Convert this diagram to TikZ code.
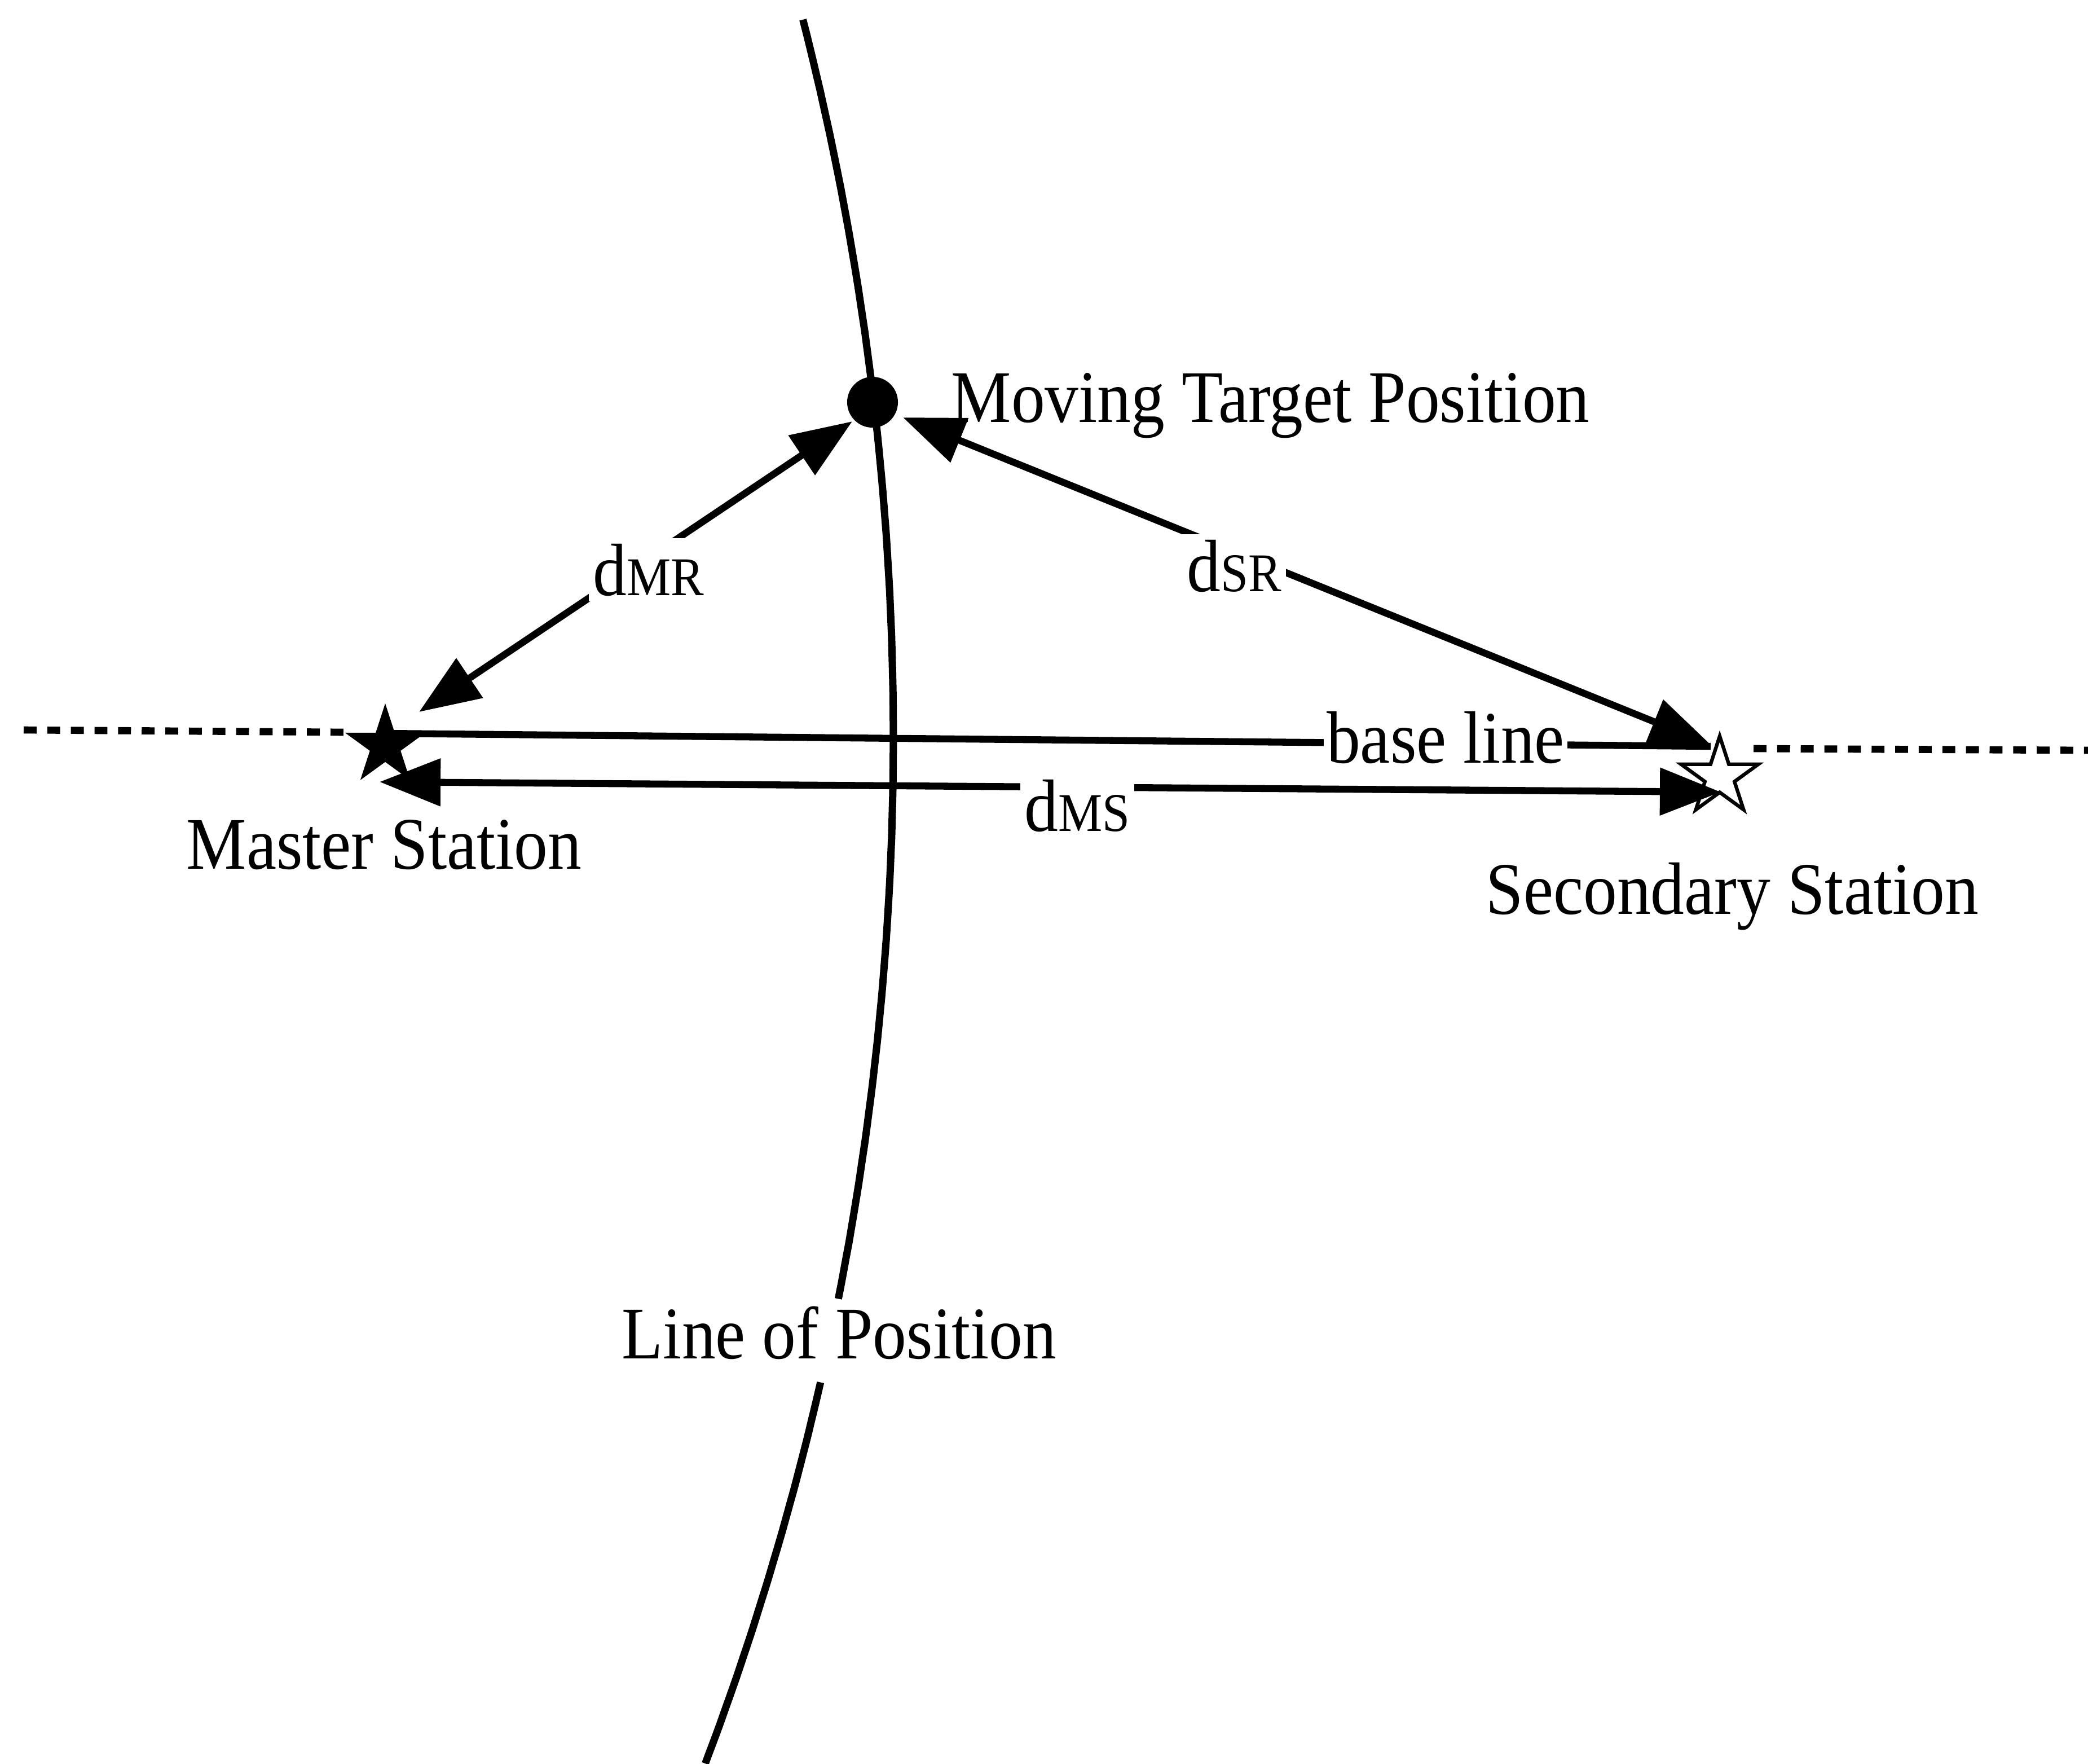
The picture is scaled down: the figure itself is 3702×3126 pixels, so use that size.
\documentclass[tikz,border=0pt]{standalone}
\usepackage{graphicx}
\usepackage{fontspec}
\setmainfont{Liberation Serif}
\usetikzlibrary{arrows.meta,shapes.geometric,calc}
\newcommand{\dsub}[1]{{\fontsize{25}{30}\selectfont #1}}
\newcommand{\vstr}[1]{\scalebox{1}[1.1]{#1}}
\begin{document}
\begin{tikzpicture}[x=0.01cm,y=-0.01cm,
  ln/.style={line width=3.5pt},
  dbl/.style={ln,{Triangle[length=1.08cm,width=0.82cm]}-{Triangle[length=1.08cm,width=0.82cm]}},
  arcline/.style={line width=3.7pt},
  dashline/.style={line width=3.6pt, dash pattern=on 6.5pt off 5.4pt},
  txt/.style={font=\fontsize{34}{40}\selectfont, inner sep=0pt},
  onl/.style={txt, fill=white, inner xsep=0.08cm, inner ysep=0.1cm},
  starnode/.style={star, star points=5, star point ratio=2.618, inner sep=0pt}
  ]
\useasboundingbox (0,0) rectangle (3702,3126);
\fill[white] (0,0) rectangle (3702,3126);

% line of position (arc of a large circle), broken by its label
\draw[arcline] plot[domain=-14.36:11.19, samples=90] ({-3546+5130*cos(\x)}, {1307+5130*sin(\x)});
\draw[arcline] plot[domain=12.88:20.77, samples=40] ({-3546+5130*cos(\x)}, {1307+5130*sin(\x)});

% stations and target
\node[starnode, minimum size=1.5cm, fill=black] (ms) at (683,1322) {};
\node[starnode, minimum size=1.44cm, draw, line width=1.8pt, fill=white] (ss) at (3049,1377) {};
\node[circle, fill=black, minimum size=0.9cm, inner sep=0pt] (tgt) at (1547,713) {};

% connector end points
\coordinate (mrT) at ($(tgt)+(-36,34)$);
\coordinate (mrM) at ($(ms)+(60,-60)$);
\coordinate (srT) at ($(tgt)+(54,27)$);
\coordinate (srS) at ($(ss)+(-16,-57)$);
\coordinate (msM) at ($(ms)+(-10,64)$);
\coordinate (msS) at ($(ss)+(2,27)$);
\coordinate (blM) at ($(ms)+(0,-22)$);
\coordinate (blS) at ($(ss)+(-16,-54)$);
\coordinate (dL1) at (42,1294);
\coordinate (dL2) at ($(ms)+(-67,-24)$);
\coordinate (dR1) at ($(ss)+(60,-50)$);
\coordinate (dR2) at (3702,1330);

% base line and its dashed extensions
\draw[ln] (blM) -- (blS);
\draw[dashline] (dL1) -- (dL2);
\draw[dashline] (dR1) -- (dR2);

% distance arrows
\draw[dbl] (mrM) -- (mrT);
\draw[dbl] (srT) -- (srS);
\draw[dbl] (msM) -- (msS);

% labels on lines
\node[onl, anchor=base] (lMR) at (1150,1055) {\vstr{d\dsub{MR}}};
\node[onl, anchor=base] (lSR) at (2188,1048) {\vstr{d\dsub{SR}}};
\node[onl, anchor=base] (lMS) at (1910,1473) {\vstr{d\dsub{MS}}};
\node[onl, anchor=base, inner xsep=0.05cm] (lBL) at (2563,1352) {\vstr{base line}};

% other labels
\node[txt, anchor=base west] (lTgt) at (1686,748) {\vstr{Moving Target Position}};
\node[txt, anchor=base west] (lMaster) at (330,1540) {\vstr{Master Station}};
\node[txt, anchor=base west] (lSec) at (2634,1620) {\vstr{Secondary Station}};
\node[txt, anchor=base west] (lLOP) at (1102,2408) {\vstr{Line of Position}};
\end{tikzpicture}
\end{document}
